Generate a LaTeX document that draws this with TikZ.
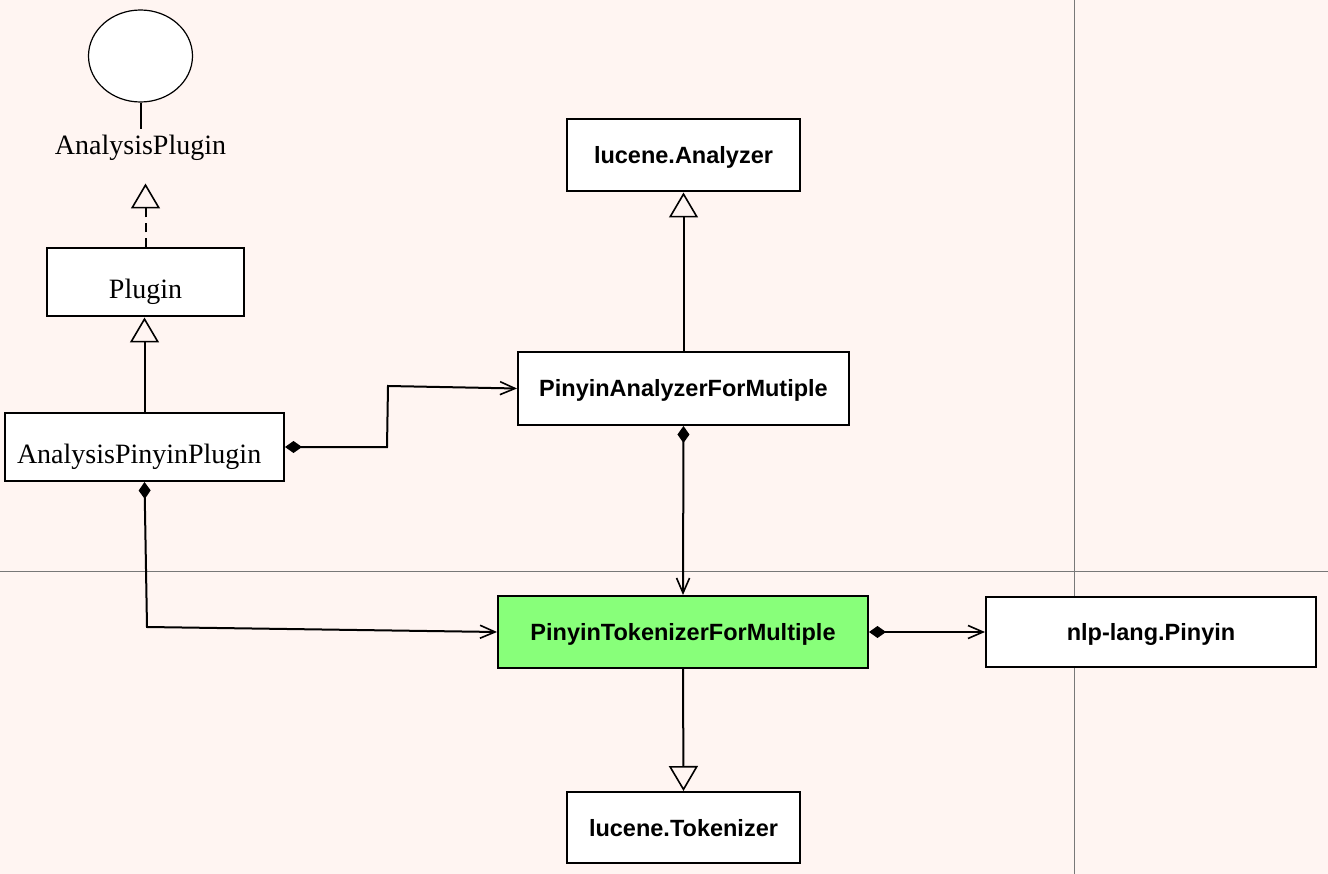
\documentclass[tikz,border=0pt]{standalone}
\usepackage{fontspec}
\setmainfont{Liberation Serif}
\newfontfamily\boxsans{Liberation Sans}
\usetikzlibrary{arrows.meta,shapes.geometric}
\definecolor{bgc}{RGB}{255,245,242}
\definecolor{gridc}{RGB}{120,120,120}
\definecolor{hl}{RGB}{136,255,122}
\begin{document}
\begin{tikzpicture}[x=1pt,y=-1pt,
  serifbox/.style={draw=black, line width=2pt, fill=white, minimum height=68pt, inner sep=0pt,
    text height=33pt, text depth=0pt, font=\fontsize{28}{32}\selectfont},
  sansbox/.style={draw=black, line width=2pt, fill=white, inner sep=0pt,
    text height=17pt, text depth=0pt, font=\boxsans\bfseries\fontsize{23.5}{28}\selectfont},
  conn/.style={line width=2pt, draw=black},
  gen/.style={conn, -{Triangle[open,length=25pt,width=29pt,line width=1.6pt]}},
  comp/.style={conn, {Diamond[length=17pt,width=12pt]}-{Straight Barb[length=15pt,width=13pt,line width=1.6pt]}},
  gridline/.style={draw=gridc, line width=1pt}
]
\useasboundingbox (0,0) rectangle (1328,874);
\fill[bgc] (0,0) rectangle (1328,874);
\draw[gridline] (1074,0) -- (1074,874);
\draw[gridline] (0,571) -- (1328,571);

% interface
\node[ellipse, draw=black, line width=1.2pt, fill=white, minimum width=104pt, minimum height=92pt, inner sep=0pt] (circ) at (140.5,56) {};
\node[anchor=base, inner sep=0pt, font=\fontsize{28}{32}\selectfont] (ifc) at (140.5,155) {AnalysisPlugin};
\draw[conn] (circ.south) -- ++(0,26);

% boxes
\node[serifbox, minimum width=197pt] (plugin) at (145.5,282.5) {Plugin};
\node[serifbox, text width=255pt, align=left, inner xsep=12pt] (api) at (144.5,447) {AnalysisPinyinPlugin};
\node[sansbox, minimum width=233pt, minimum height=72pt] (analyzer) at (683.5,155.5) {lucene.Analyzer};
\node[sansbox, minimum width=331pt, minimum height=73pt] (pafm) at (683.5,388.5) {PinyinAnalyzerForMutiple};
\node[sansbox, fill=hl, minimum width=370pt, minimum height=72pt] (ptfm) at (683,632) {PinyinTokenizerForMultiple};
\node[sansbox, minimum width=330pt, minimum height=70pt] (nlp) at (1151,632) {nlp-lang.Pinyin};
\node[sansbox, minimum width=233pt, minimum height=71pt] (tok) at (683.5,827.5) {lucene.Tokenizer};

% generalization / realization
\draw[gen, dash pattern=on 9pt off 6pt] (plugin.north) -- ++(0,-64);
\draw[gen] (api.north) -- (api.north |- plugin.south);
\draw[gen] (pafm.north) -- (analyzer.south);
\draw[gen] (ptfm.south) -- (tok.north);

% compositions
\draw[comp] (api.east) -- (387,447) -- (388,386) -- (pafm.west);
\draw[comp] (api.south) -- (147,627) -- (ptfm.west);
\draw[comp] (pafm.south) -- (ptfm.north);
\draw[comp] (ptfm.east) -- (nlp.west);
\end{tikzpicture}
\end{document}
